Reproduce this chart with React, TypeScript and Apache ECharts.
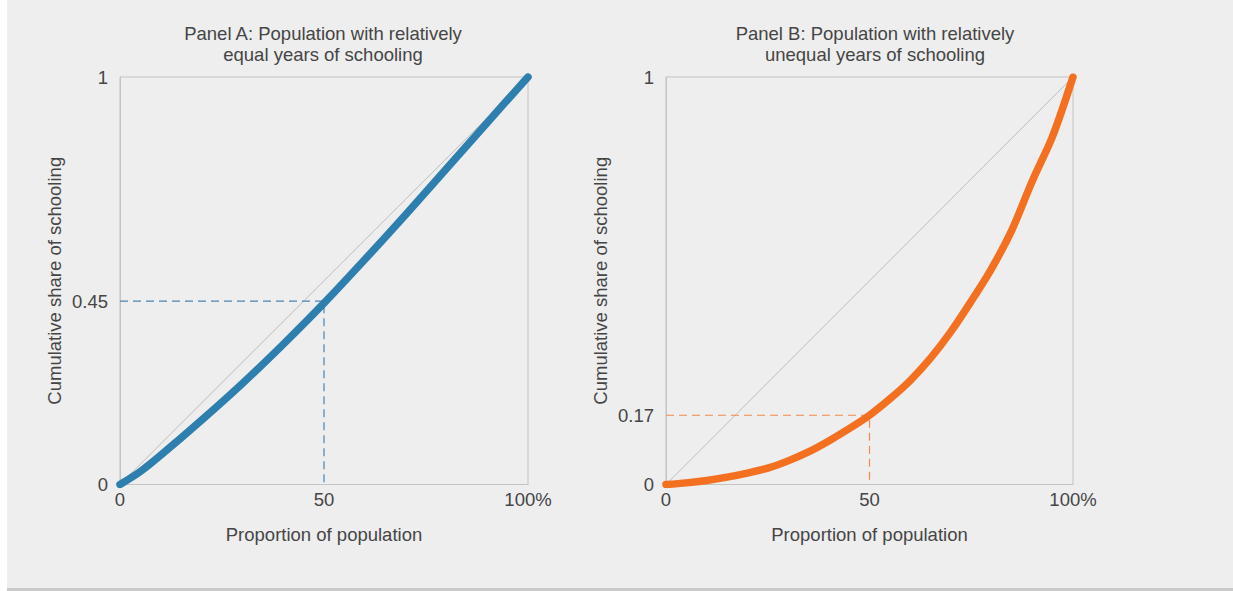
import React, { useEffect, useRef } from "react";
import * as echarts from "echarts";

const titleA = "Panel A: Population with relatively\nequal years of schooling";
const titleB = "Panel B: Population with relatively\nunequal years of schooling";
const xName = "Proportion of population";
const yName = "Cumulative share of schooling";

const xTicks = [0, 50, 100];
const yTicksA = [0, 0.45, 1];
const yTicksB = [0, 0.17, 1];

const popA = [0, 5, 10, 20, 30, 40, 50, 60, 70, 80, 90, 100];
const shareA = [0, 0.032, 0.072, 0.158, 0.248, 0.344, 0.445, 0.552, 0.662, 0.775, 0.888, 1];

const popB = [0, 5, 10, 15, 20, 25, 30, 35, 40, 45, 50, 55, 60, 65, 70, 75, 80, 85, 90, 95, 100];
const shareB = [0, 0.004, 0.01, 0.018, 0.028, 0.04, 0.058, 0.08, 0.107, 0.137, 0.17, 0.21, 0.255, 0.31, 0.375, 0.45, 0.53, 0.625, 0.745, 0.855, 1];

const markA = [50, 0.45];
const markB = [50, 0.17];
const equality = [[0, 0], [100, 1]];

const FONT = '"Liberation Sans", Arial, Helvetica, sans-serif';
const TXT = "#454545";
const BLUE = "#2e7eae";
const ORANGE = "#f37021";

export default function App() {
  const ref = useRef<HTMLDivElement>(null);
  useEffect(() => {
    if (!ref.current) return;
    const chart = echarts.init(ref.current, null, { renderer: "svg" });
    const textStyle = { fontFamily: FONT, fontSize: 18.5, color: TXT };
    const mkX = (i: number) => ({
      type: "value",
      gridIndex: i,
      min: 0,
      max: 100,
      name: xName,
      nameLocation: "middle",
      nameGap: 40,
      nameTextStyle: { ...textStyle },
      axisLine: { show: true, lineStyle: { color: "#c4c4c4", width: 1 } },
      axisTick: { show: false },
      splitLine: { show: false },
      axisLabel: {
        customValues: xTicks,
        margin: 5,
        ...textStyle,
        formatter: (v: number) => (v === 100 ? "100%" : String(v)),
      },
    });
    const mkY = (i: number, ticks: number[]) => ({
      type: "value",
      gridIndex: i,
      min: 0,
      max: 1,
      name: yName,
      nameLocation: "middle",
      nameRotate: 90,
      nameGap: 56,
      nameTextStyle: { ...textStyle },
      axisLine: { show: true, lineStyle: { color: "#c4c4c4", width: 1 } },
      axisTick: { show: false },
      splitLine: { show: false },
      axisLabel: {
        customValues: ticks,
        margin: 12,
        ...textStyle,
        formatter: (v: number) => String(v),
      },
    });
    const guide = (m: number[]) => [[0, m[1]], [m[0], m[1]], [m[0], 0]];
    chart.setOption({
      animation: false,
      backgroundColor: "transparent",
      graphic: [
        { type: "rect", z: -10, silent: true, shape: { x: 7, y: 0, width: 1226, height: 588 }, style: { fill: "#eeeeee" } },
        { type: "rect", z: -10, silent: true, shape: { x: 7, y: 588, width: 1226, height: 3 }, style: { fill: "#c9c9c9" } },
      ],
      title: [
        { text: titleA, left: 318, top: 18, textAlign: "center", textStyle: { ...textStyle, fontWeight: "normal", lineHeight: 21 } },
        { text: titleB, left: 870, top: 18, textAlign: "center", textStyle: { ...textStyle, fontWeight: "normal", lineHeight: 21 } },
      ],
      grid: [
        { left: 120, right: 705, top: 77, bottom: 106.5, show: true, borderColor: "#c4c4c4", borderWidth: 1, backgroundColor: "transparent" },
        { left: 666, right: 160, top: 77, bottom: 106.5, show: true, borderColor: "#c4c4c4", borderWidth: 1, backgroundColor: "transparent" },
      ],
      xAxis: [mkX(0), mkX(1)],
      yAxis: [mkY(0, yTicksA), mkY(1, yTicksB)],
      series: [
        { type: "line", xAxisIndex: 0, yAxisIndex: 0, data: equality, symbol: "none", lineStyle: { color: "#bdbdbd", width: 1 }, silent: true },
        { type: "line", xAxisIndex: 1, yAxisIndex: 1, data: equality, symbol: "none", lineStyle: { color: "#bdbdbd", width: 1 }, silent: true },
        { type: "line", xAxisIndex: 0, yAxisIndex: 0, data: guide(markA), symbol: "none", lineStyle: { color: "#4a85b3", width: 1.2, type: [8, 5] }, silent: true },
        { type: "line", xAxisIndex: 1, yAxisIndex: 1, data: guide(markB), symbol: "none", lineStyle: { color: "#f08a4e", width: 1.2, type: [8, 5] }, silent: true },
        {
          type: "line", xAxisIndex: 0, yAxisIndex: 0,
          data: popA.map((p, i) => [p, shareA[i]]),
          symbol: "none", smooth: 0.3,
          lineStyle: { color: BLUE, width: 7.5, cap: "round", join: "round" },
        },
        {
          type: "line", xAxisIndex: 1, yAxisIndex: 1,
          data: popB.map((p, i) => [p, shareB[i]]),
          symbol: "none", smooth: 0.3,
          lineStyle: { color: ORANGE, width: 7.5, cap: "round", join: "round" },
        },
      ],
    });
    return () => chart.dispose();
  }, []);
  return (
    <div
      ref={ref}
      style={{ position: "fixed", left: 0, top: 0, width: 1233, height: 591, background: "#ffffff" }}
    />
  );
}
